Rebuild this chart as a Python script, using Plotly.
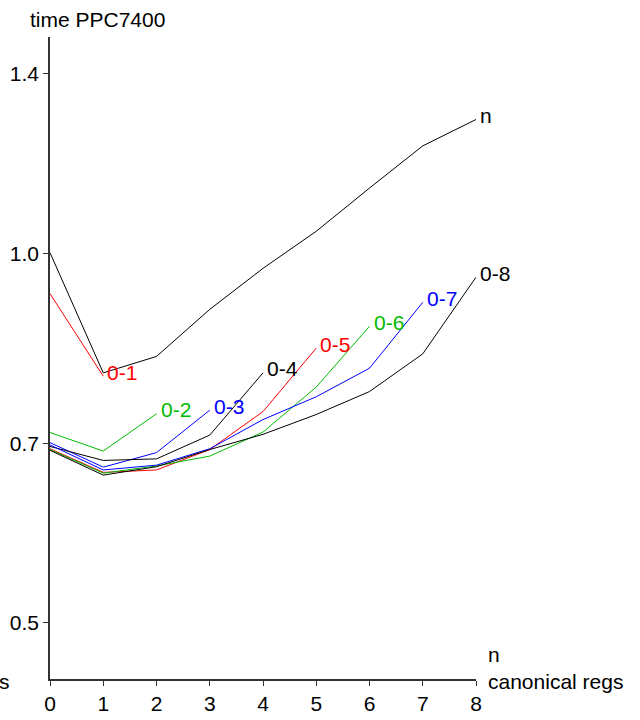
import numpy as np
import plotly.graph_objects as go

# data: time on PPC7400 vs number of canonical regs
x_vals = [0, 1, 2, 3, 4, 5, 6, 7, 8]
series_names = ["n", "0-1", "0-2", "0-3", "0-4", "0-5", "0-6", "0-7", "0-8"]
series_colors = ["black", "red", "#00bb00", "blue", "black", "red", "#00bb00", "blue", "black"]

t_n = [1.001, 0.799, 0.824, 0.900, 0.972, 1.042, 1.130, 1.223, 1.285]
t_01 = [0.927, 0.794]
t_02 = [0.7145, 0.690, 0.740]
t_03 = [0.701, 0.6695, 0.688, 0.745]
t_04 = [0.696, 0.678, 0.680, 0.711, 0.799]
t_05 = [0.693, 0.663, 0.666, 0.692, 0.743, 0.837]
t_06 = [0.692, 0.662, 0.671, 0.6835, 0.715, 0.778, 0.872]
t_07 = [0.698, 0.666, 0.672, 0.693, 0.732, 0.764, 0.806, 0.912]
t_08 = [0.691, 0.6596, 0.670, 0.692, 0.712, 0.739, 0.7715, 0.828, 0.956]
series_values = [t_n, t_01, t_02, t_03, t_04, t_05, t_06, t_07, t_08]

y_ticks = [0.5, 0.7, 1.0, 1.4]
y_tick_labels = ["0.5", "0.7", "1.0", "1.4"]
x_ticks = [0, 1, 2, 3, 4, 5, 6, 7, 8]

FONT = "Liberation Sans, Arial, sans-serif"
FS = 21

fig = go.Figure()
annotations = []
for name, col, vals in zip(series_names, series_colors, series_values):
    xs = x_vals[:len(vals)]
    fig.add_trace(go.Scatter(x=xs, y=vals, mode="lines",
                             line=dict(color=col, width=1), name=name,
                             showlegend=False))
    annotations.append(dict(x=xs[-1], y=np.log10(vals[-1]), xref="x", yref="y",
                            text=name, showarrow=False, xanchor="left",
                            yanchor="middle", xshift=2, yshift=4,
                            font=dict(family=FONT, size=FS, color=col)))

# axis titles
annotations.append(dict(x=0, y=1, xref="paper", yref="paper", text="time PPC7400",
                        showarrow=False, xanchor="left", yanchor="bottom",
                        xshift=-22, yshift=4,
                        font=dict(family=FONT, size=FS, color="black")))
annotations.append(dict(x=1, y=0, xref="paper", yref="paper", text="n",
                        showarrow=False, xanchor="left", yanchor="middle",
                        xshift=10, yshift=25,
                        font=dict(family=FONT, size=FS, color="black")))
annotations.append(dict(x=1, y=0, xref="paper", yref="paper", text="canonical regs",
                        showarrow=False, xanchor="left", yanchor="middle",
                        xshift=10, yshift=-2,
                        font=dict(family=FONT, size=FS, color="black")))
annotations.append(dict(x=0, y=0, xref="paper", yref="paper", text="s",
                        showarrow=False, xanchor="right", yanchor="middle",
                        xshift=-38, yshift=-2,
                        font=dict(family=FONT, size=FS, color="black")))

fig.update_layout(
    width=640, height=720,
    margin=dict(l=50, r=164, t=37, b=41),
    paper_bgcolor="white", plot_bgcolor="white",
    font=dict(family=FONT, size=FS, color="black"),
    annotations=annotations,
    xaxis=dict(range=[0, 8], tickvals=x_ticks, showgrid=False, zeroline=False,
               automargin=False,
               showline=True, linecolor="#333", linewidth=1.5,
               ticks="outside", ticklen=5, tickcolor="#333",
               tickfont=dict(family=FONT, size=FS, color="black")),
    yaxis=dict(type="log", range=[np.log10(0.45), np.log10(1.5)],
               tickvals=y_ticks, ticktext=y_tick_labels,
               automargin=False,
               showgrid=False, zeroline=False,
               showline=True, linecolor="#333", linewidth=1.5,
               ticks="outside", ticklen=5, tickcolor="#333",
               tickfont=dict(family=FONT, size=FS, color="black")),
)

fig.write_html("out.html")
